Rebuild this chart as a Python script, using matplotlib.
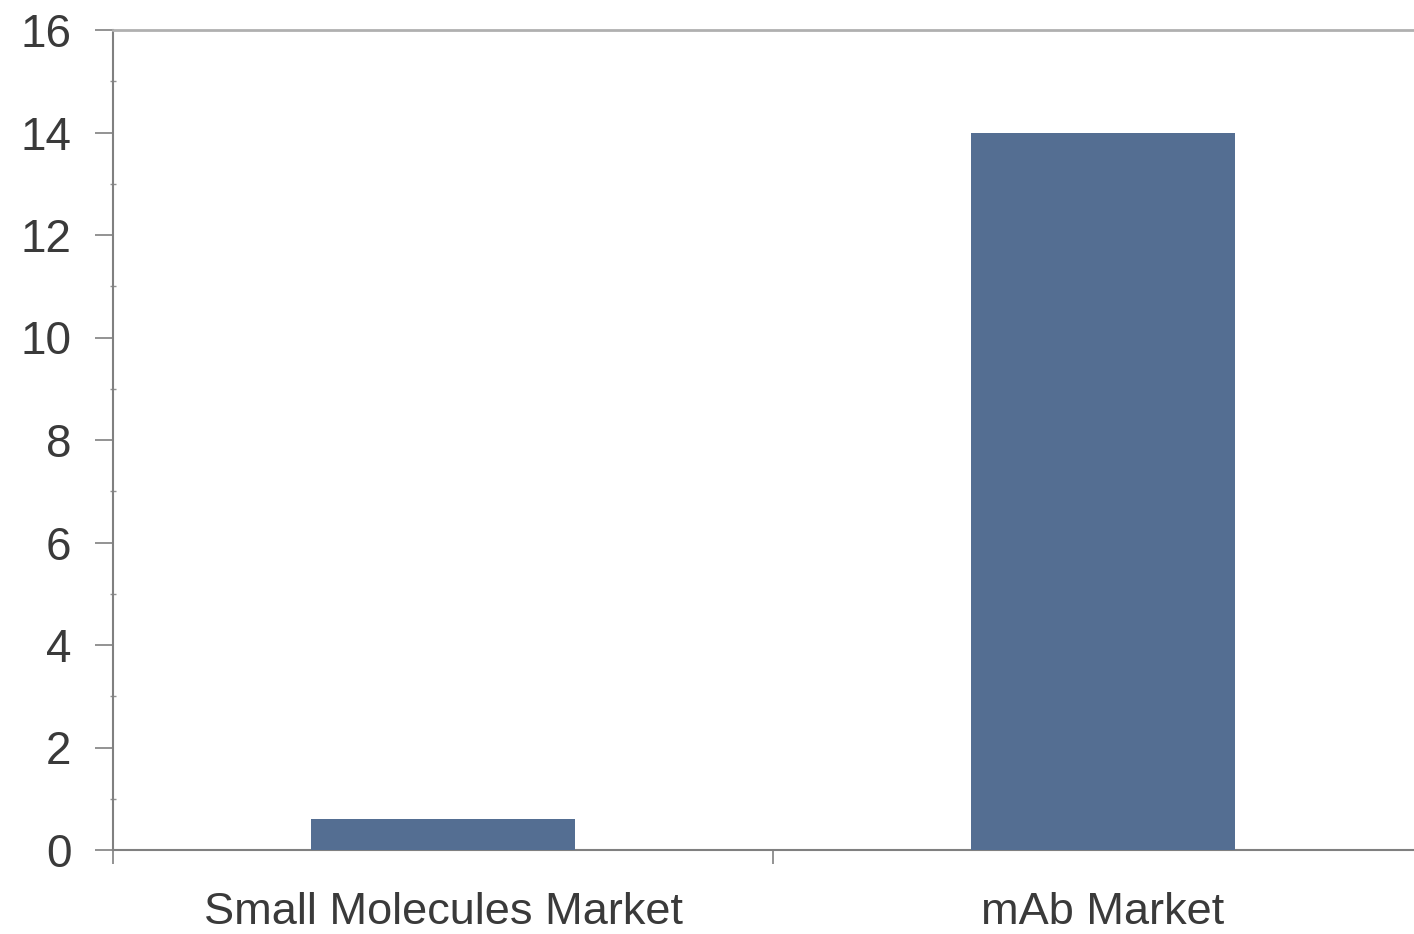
import matplotlib.pyplot as plt
from matplotlib.ticker import MultipleLocator, FixedLocator

# Datos del gráfico
categories = ["Small Molecules Market", "mAb Market"]
values = [0.6, 14.0]
yticks = [0, 2, 4, 6, 8, 10, 12, 14, 16]

plt.rcParams['font.family'] = ['Liberation Sans', 'DejaVu Sans']

fig = plt.figure(figsize=(14.14, 9.34), dpi=100)
ax = fig.add_axes([113 / 1414, 1 - 850 / 934, (1414 - 113) / 1414, 820 / 934])

x = list(range(len(categories)))
ax.bar(x, values, width=0.4, color="#546E92", zorder=3)

ax.set_xlim(-0.5, -0.5 + (1414 - 113) / 660)
ax.set_ylim(0, 16)

# Eje Y
ax.set_yticks(yticks)
ax.set_yticklabels([str(v) for v in yticks])
ax.yaxis.set_minor_locator(MultipleLocator(1))
ax.tick_params(axis="y", which="major", direction="out", length=13, width=1.2,
               color="#808080", labelsize=33, labelcolor="#3a3a3a", pad=17)
ax.tick_params(axis="y", which="minor", direction="inout", length=4, width=1,
               color="#909090")

# Eje X: marcas en los límites de categoría, etiquetas en el centro
ax.xaxis.set_major_locator(FixedLocator([-0.5, 0.5, 1.5]))
ax.xaxis.set_minor_locator(FixedLocator(x))
ax.xaxis.set_major_formatter(plt.NullFormatter())
ax.set_xticklabels(categories, minor=True)
ax.tick_params(axis="x", which="major", direction="out", length=10, width=1.2,
               color="#808080")
ax.tick_params(axis="x", which="minor", length=0, labelsize=32.5,
               labelcolor="#3a3a3a", pad=30)

for side in ["left", "bottom"]:
    ax.spines[side].set_color("#808080")
    ax.spines[side].set_linewidth(1.5)
ax.spines["top"].set_color("#b0b0b0")
ax.spines["top"].set_linewidth(2)
ax.spines["right"].set_visible(False)

fig.savefig("out.png", dpi=100)
